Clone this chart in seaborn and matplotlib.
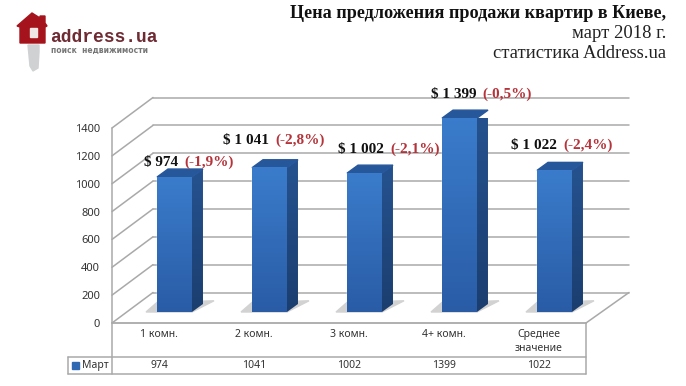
import numpy as np
import seaborn as sns
import matplotlib.pyplot as plt
from matplotlib.patches import Polygon, Rectangle
from matplotlib.colors import LinearSegmentedColormap

categories = ['1 комн.', '2 комн.', '3 комн.', '4+ комн.', 'Среднее\nзначение']
values = [974, 1041, 1002, 1399, 1022]
price_labels = ['$ 974', '$ 1 041', '$ 1 002', '$ 1 399', '$ 1 022']
change_labels = ['(-1,9%)', '(-2,8%)', '(-2,1%)', '(-0,5%)', '(-2,4%)']
y_ticks = [0, 200, 400, 600, 800, 1000, 1200, 1400]
series_name = 'Март'

W, H = 686, 386
GRID = '#a9a9a9'
SERIF = 'Liberation Serif'
SANS = 'Noto Sans'

sns.set_style('white')
fig = plt.figure(figsize=(W / 100, H / 100), dpi=100)


def px_axes(left, top, right, bottom):
  return fig.add_axes([left / W, 1 - bottom / H, (right - left) / W, (bottom - top) / H])


# whole figure in pixels, for the chart walls, table and logo
bg = px_axes(0, 0, W, H)
bg.set_xlim(0, W)
bg.set_ylim(H, 0)
bg.axis('off')

# walls and floor
for tick in y_ticks:
  front_y = 323 - tick * 195 / 1400
  back_y = front_y - 30.5
  bg.plot([112, 153], [front_y, back_y], color=GRID, lw=1.1)
  bg.plot([153, 629], [back_y, back_y], color=GRID, lw=1.1)
bg.plot([586, 629], [323, 292.5], color=GRID, lw=1.1)

# table under the chart
bg.plot([112, 112], [128, 374], color=GRID, lw=1.1)
bg.plot([586, 586], [323, 374], color=GRID, lw=1.1)
bg.plot([112, 586], [323, 323], color=GRID, lw=1.3)
bg.plot([68, 586], [357, 357], color=GRID, lw=1.1)
bg.plot([68, 586], [374, 374], color=GRID, lw=1.1)
bg.plot([68, 68], [357, 374], color=GRID, lw=1.1)
bg.add_patch(Rectangle((72, 362), 7, 7, color='#2f69b3'))
bg.text(82, 365.5, series_name, ha='left', va='center', fontsize=7.5, family=SANS, color='#333333')

# logo
bg.add_patch(Polygon([(32, 13), (17, 26), (20, 27), (20, 43), (45, 43), (45, 27), (47, 26), (45, 23), (45, 16), (40, 16), (40, 18)], color='#a5141c'))
bg.add_patch(Rectangle((30, 28), 7, 9, color='#f1e6e6'))
bg.add_patch(Polygon([(28, 45), (39, 45), (39, 52), (38, 68), (33, 71), (30, 66)], color='#cfd1d2'))
bg.text(50, 37, 'address.ua', ha='left', va='center', fontsize=13, family='Liberation Mono', weight='bold', color='#6f2b33')
bg.text(51, 50, 'поиск  недвижимости', ha='left', va='center', fontsize=5.5, family='DejaVu Sans', weight='bold', color='#777777')

# title
bg.text(666, 13, 'Цена предложения продажи квартир в Киеве,', ha='right', va='center', fontsize=13.1, family=SERIF, weight='bold', color='#111111')
bg.text(666, 33, 'март 2018 г.', ha='right', va='center', fontsize=13.4, family=SERIF, color='#222222')
bg.text(666, 53, 'статистика Address.ua', ha='right', va='center', fontsize=13.4, family=SERIF, color='#222222')

# front plane, carries the tick labels and the table values
front = px_axes(112, 128, 586, 323)
front.patch.set_visible(False)
front.set_xlim(-0.5, 4.5)
front.set_ylim(0, 1400)
sns.despine(ax=front, left=True, bottom=True)
front.set_yticks(y_ticks)
front.set_xticks(range(len(categories)))
front.set_xticklabels(categories, fontsize=7.5, family=SANS, color='#333333', linespacing=1.35)
front.set_yticklabels(y_ticks, fontsize=8, family=SANS, color='#333333')
front.tick_params(axis='x', length=0, pad=4.5)
front.tick_params(axis='y', length=0, pad=8.6)
for i, val in enumerate(values):
  front.text(i, -0.217, str(val), transform=front.get_xaxis_transform(), ha='center', va='center', fontsize=7.5, family=SANS, color='#333333')

# bars stand further back than the front plane
ax = px_axes(127, 118, 602, 312)
ax.patch.set_visible(False)
sns.barplot(x=categories, y=values, color='#2f69b3', width=0.368, saturation=1, ax=ax)
ax.set_xlim(-0.5, 4.5)
ax.set_ylim(0, 1400)
ax.axis('off')

depth_x = 11 / 95
depth_y = 8 * 1400 / 194
cm_front = LinearSegmentedColormap.from_list('front', ['#3a7ccb', '#2a5ca6'])
cm_side = LinearSegmentedColormap.from_list('side', ['#25528f', '#1b3e6f'])
grad = np.linspace(0, 1, 64).reshape(-1, 1)

for bar in ax.patches[:len(values)]:
  x0 = bar.get_x()
  x1 = x0 + bar.get_width()
  top = bar.get_height()
  # floor shadow
  ax.add_patch(Polygon([(x0 - depth_x, 0), (x0, depth_y * 1.2), (x1 + depth_x * 2, depth_y * 1.4), (x1, 0)],
                       color='#d2d2d2', clip_on=False, zorder=1))
  # side face, slanted at the foot
  side = Polygon([(x1, 0), (x1 + depth_x, depth_y), (x1 + depth_x, top + depth_y), (x1, top)], transform=ax.transData)
  im = ax.imshow(grad, cmap=cm_side, extent=(x1, x1 + depth_x, 0, top + depth_y), aspect='auto', zorder=2)
  im.set_clip_path(side)
  ax.add_patch(Polygon([(x0, top), (x0 + depth_x, top + depth_y), (x1 + depth_x, top + depth_y), (x1, top)],
                       color='#27579b', clip_on=False, zorder=3))
  ax.imshow(grad, cmap=cm_front, extent=(x0, x1, 0, top), aspect='auto', zorder=4, clip_on=False)
ax.set_xlim(-0.5, 4.5)
ax.set_ylim(0, 1400)

# value labels: pixel offset of the black/red join from the bar top centre
label_dx = [6.5, 2.5, 22.5, 19.5, 5.5]
label_dy = [15, 27, 24, 24, 25]
for i, val in enumerate(values):
  ax.annotate(price_labels[i], (i, val), xytext=(label_dx[i] - 3, label_dy[i]), textcoords='offset pixels',
              ha='right', va='center', fontsize=11, family=SERIF, weight='bold', color='#111111', annotation_clip=False, zorder=6)
  ax.annotate(change_labels[i], (i, val), xytext=(label_dx[i] + 3, label_dy[i]), textcoords='offset pixels',
              ha='left', va='center', fontsize=11, family=SERIF, weight='bold', color='#b5333a', annotation_clip=False, zorder=6)

plt.savefig('out.png', dpi=100)
